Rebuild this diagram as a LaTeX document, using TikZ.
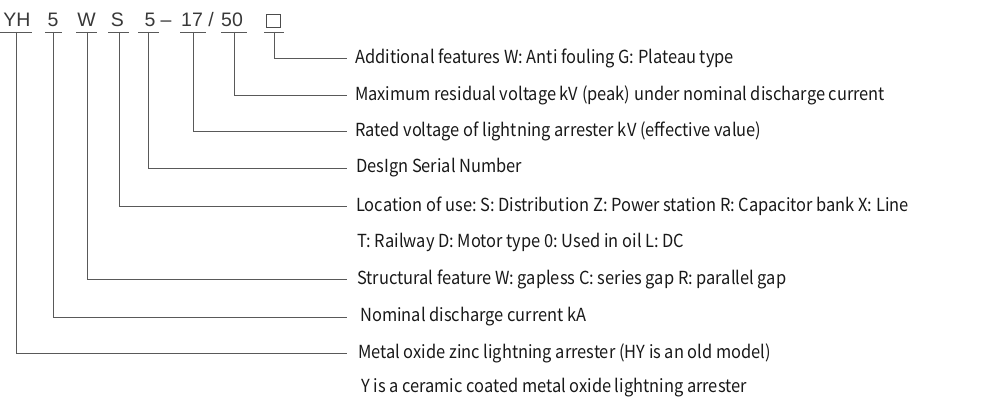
\documentclass[tikz,border=0pt]{standalone}
\usepackage{fontspec}
\setmainfont[FakeStretch=0.913]{Noto Sans CJK SC}
\newfontfamily\codefont{Liberation Sans}
\frenchspacing
\begin{document}
\begin{tikzpicture}[x=1pt,y=-1pt,
  codechar/.style={font=\codefont\fontsize{19.5}{20}\selectfont, text=black!78, inner sep=0pt, anchor=base},
  ul/.style={draw=black!65, line width=0.8pt},
  conn/.style={draw=black!65, line width=0.8pt},
  lab/.style={font=\fontsize{18}{19}\selectfont, text=black!90, inner sep=0pt, anchor=west},
  codebox/.style={draw=black!70, line width=0.8pt, minimum width=14pt, minimum height=13pt, inner sep=0pt}]
\useasboundingbox (0,0) rectangle (1000,406);
% code characters
\node[codechar] (yh) at (17,27) {YH};
\node[codechar] (n5) at (53,27) {5};
\node[codechar] (w) at (86.5,27) {W};
\node[codechar] (s) at (117.5,27) {S};
\node[codechar] (d5) at (150,27) {5};
\node[codechar] (dash) at (166,27) {–};
\node[codechar] (v17) at (192,27) {17};
\node[codechar] (sl) at (211,27) {/};
\node[codechar] (v50) at (232,27) {50};
\node[codebox] (bx) at (273.5,20.5) {};
% underlines
\draw[ul] (0,32) -- (32,32);
\draw[ul] (45,32) -- (62,32);
\draw[ul] (76,32) -- (97,32);
\draw[ul] (108,32) -- (129,32);
\draw[ul] (138,32) -- (159,32);
\draw[ul] (180,32) -- (206,32);
\draw[ul] (221,32) -- (247,32);
\draw[ul] (264,32) -- (284,32);
% connector starts
\coordinate (syh) at (16,32);
\coordinate (sn5) at (53,32);
\coordinate (sw) at (87,32);
\coordinate (ss) at (119,32);
\coordinate (sd5) at (148,32);
\coordinate (s17) at (193,32);
\coordinate (s50) at (234,32);
\coordinate (sbx) at (274,32);
% connector ends
\coordinate (ebx) at (347,58);
\coordinate (e50) at (347,95);
\coordinate (e17) at (347,131);
\coordinate (ed5) at (347,168);
\coordinate (es) at (347,206);
\coordinate (ew) at (347,279);
\coordinate (en5) at (347,317);
\coordinate (eyh) at (347,353);
% labels
\node[lab] (lbx) at (355,58) {Additional features W: Anti fouling G: Plateau type};
\node[lab] (l50) at (355,95) {Maximum residual voltage kV (peak) under nominal discharge current};
\node[lab] (l17) at (355,131) {Rated voltage of lightning arrester kV (effective value)};
\node[lab] (ld5) at (356,168) {DesIgn Serial Number};
\node[lab] (ls) at (356,206) {Location of use: S: Distribution Z: Power station R: Capacitor bank X: Line};
\node[lab] (ls2) at (357,242) {T: Railway D: Motor type 0: Used in oil L: DC};
\node[lab] (lw) at (357,279) {Structural feature W: gapless C: series gap R: parallel gap};
\node[lab] (ln5) at (360,317) {Nominal discharge current kA};
\node[lab] (lyh) at (358,353) {Metal oxide zinc lightning arrester (HY is an old model)};
\node[lab] (lyh2) at (361,388) {Y is a ceramic coated metal oxide lightning arrester};
% connectors
\draw[conn] (sbx) |- (ebx);
\draw[conn] (s50) |- (e50);
\draw[conn] (s17) |- (e17);
\draw[conn] (sd5) |- (ed5);
\draw[conn] (ss) |- (es);
\draw[conn] (sw) |- (ew);
\draw[conn] (sn5) |- (en5);
\draw[conn] (syh) |- (eyh);
\end{tikzpicture}
\end{document}
